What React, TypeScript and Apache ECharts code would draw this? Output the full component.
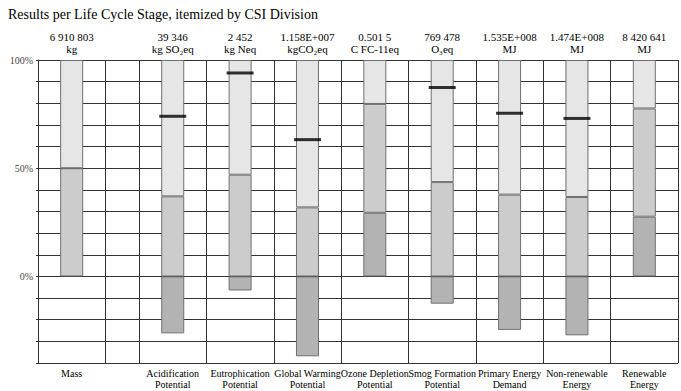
import React, { useEffect, useRef } from "react";
import * as echarts from "echarts";

const title = "Results per Life Cycle Stage, itemized by CSI Division";
const categories = [
  "Mass",
  "Acidification\nPotential",
  "Eutrophication\nPotential",
  "Global Warming\nPotential",
  "Ozone Depletion\nPotential",
  "Smog Formation\nPotential",
  "Primary Energy\nDemand",
  "Non-renewable\nEnergy",
  "Renewable\nEnergy",
];
// positions on a half-column axis (0..19): Mass, gap, then one column per indicator
const slotOfCategory = [1, 4, 6, 8, 10, 12, 14, 16, 18];
const gridBoundarySlots = [0, 2, 3, 5, 7, 9, 11, 13, 15, 17, 19];
const SLOT_COUNT = 20;
const totals = ["6 910 803", "39 346", "2 452", "1.158E+007", "0.501 5", "769 478", "1.535E+008", "1.474E+008", "8 420 641"];
const units = ["kg", "kg SO₂eq", "kg Neq", "kgCO₂eq", "C FC-11eq", "O₃eq", "MJ", "MJ", "MJ"];

// percent shares per life cycle stage
const darkStage = [null, -26.3, -6.5, -36.9, 29.4, -12.6, -24.7, -27.2, 27.6];
const midStage = [50, 37, 47, 31.9, 50.3, 43.6, 37.8, 36.7, 50];
const lightStage = [50, 63, 53, 68.1, 20.3, 56.4, 62.2, 63.3, 22.4];
const netMarker = [null, 74, 94, 63.2, null, 87.3, 75.4, 73, null];

const yTickLabels = [0, 50, 100];

const FONT = "'Liberation Serif', 'Times New Roman', serif";
const GRID_COLOR = "#333333";

export default function App() {
  const ref = useRef<HTMLDivElement>(null);
  useEffect(() => {
    if (!ref.current) return;
    const chart = echarts.init(ref.current, null, { renderer: "svg" });
    const slotKeys = Array.from({ length: SLOT_COUNT }, (_, i) => "s" + i);
    const slotLabel = (idx: number) => {
      const c = slotOfCategory.indexOf(idx);
      return c >= 0 ? categories[c] : "";
    };
    const toSlots = (arr: (number | null)[]) => {
      const out: (number | null)[] = Array(SLOT_COUNT).fill(null);
      slotOfCategory.forEach((s, i) => (out[s] = arr[i]));
      return out;
    };
    const catOfSlot = (slot: number) => slotOfCategory.indexOf(slot);
    const barBase = {
      type: "bar",
      stack: "total",
      barWidth: 23,
    };
    const border = { borderColor: "#707070", borderWidth: 1 };
    chart.setOption({
      animation: false,
      backgroundColor: "#fff",
      title: {
        text: title,
        left: 3,
        top: 2,
        textStyle: { fontFamily: FONT, fontSize: 14, fontWeight: "normal", color: "#000" },
      },
      grid: { left: 38, right: 1, top: 60, bottom: 28, containLabel: false },
      xAxis: {
        type: "category",
        data: slotKeys,
        boundaryGap: false,
        axisTick: { show: false },
        axisLine: { show: true, lineStyle: { color: GRID_COLOR, width: 1 } },
        splitLine: {
          show: true,
          interval: (index: number) => gridBoundarySlots.includes(index),
          lineStyle: { color: GRID_COLOR, width: 1 },
        },
        axisLabel: {
          interval: 0,
          margin: 5,
          fontFamily: FONT,
          fontSize: 10,
          lineHeight: 11,
          color: "#000",
          verticalAlign: "top",
          formatter: (_v: string, index: number) => slotLabel(index),
        },
      },
      yAxis: {
        type: "value",
        min: -40,
        max: 100,
        interval: 10,
        axisLine: { show: true, lineStyle: { color: GRID_COLOR, width: 1 } },
        axisTick: { show: true, length: 2, lineStyle: { color: GRID_COLOR } },
        splitLine: { show: true, lineStyle: { color: GRID_COLOR, width: 1 } },
        axisLabel: {
          margin: 5,
          fontFamily: FONT,
          fontSize: 10,
          color: "#444",
          formatter: (v: number) => (yTickLabels.includes(v) ? v + "%" : ""),
        },
      },
      series: [
        {
          ...barBase,
          name: "Stage C",
          data: toSlots(darkStage),
          itemStyle: { ...border, color: "#b3b3b3" },
        },
        {
          ...barBase,
          name: "Stage B",
          data: toSlots(midStage),
          itemStyle: { ...border, color: "#cccccc" },
        },
        {
          ...barBase,
          name: "Stage A",
          data: toSlots(lightStage),
          itemStyle: { ...border, color: "#e6e6e6" },
          label: {
            show: true,
            position: "top",
            distance: 5,
            fontFamily: FONT,
            fontSize: 11,
            lineHeight: 12,
            color: "#000",
            formatter: (p: any) => {
              const c = catOfSlot(p.dataIndex);
              return c >= 0 ? totals[c] + "\n" + units[c] : "";
            },
          },
        },
        {
          type: "scatter",
          name: "Net",
          z: 5,
          symbol: "rect",
          symbolSize: [27, 3],
          itemStyle: { color: "#000" },
          data: toSlots(netMarker),
        },
      ],
    });
    return () => chart.dispose();
  }, []);
  return (
    <div
      ref={ref}
      style={{ position: "fixed", left: 0, top: 0, width: 681, height: 391, background: "#fff" }}
    />
  );
}
